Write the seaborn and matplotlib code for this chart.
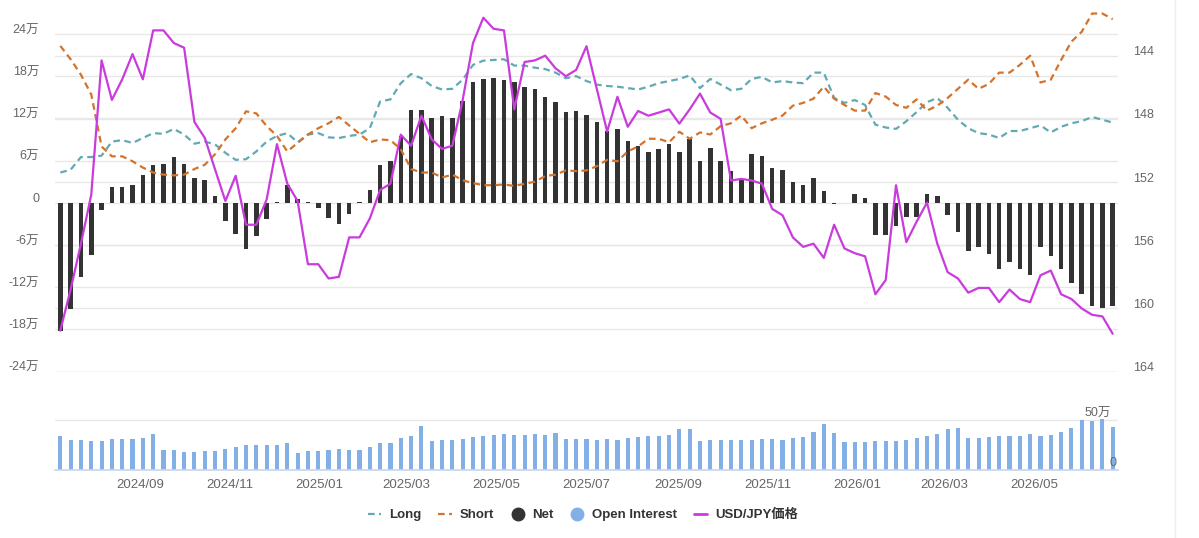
import numpy as np
import pandas as pd
import matplotlib
matplotlib.use("Agg")
import matplotlib.pyplot as plt
import matplotlib.dates as mdates
from matplotlib.lines import Line2D
from matplotlib.transforms import ScaledTranslation
import seaborn as sns

# ---------------- data ----------------
start_date = "2024-07-09"
n_weeks = 103

net = [-18.2, -15.1, -10.6, -7.4, -1.0, 2.2, 2.2, 2.5, 3.9, 5.4,
       5.5, 6.5, 5.5, 3.5, 3.2, 1.0, -2.6, -4.4, -6.5, -4.7,
       -2.3, 0.1, 2.5, 0.5, 0.1, -0.8, -2.1, -3.0, -1.6, 0.1,
       1.8, 5.4, 5.9, 9.5, 13.2, 13.2, 12.1, 12.4, 12.1, 14.5,
       17.1, 17.6, 17.8, 17.5, 17.1, 16.5, 16.2, 15.0, 14.3, 12.9,
       13.1, 12.5, 11.5, 10.2, 10.5, 8.8, 8.0, 7.2, 7.6, 8.4,
       7.2, 9.0, 5.9, 7.8, 5.9, 4.5, 3.3, 7.0, 6.6, 4.9,
       4.6, 2.9, 2.5, 3.5, 1.7, -0.15, 0.0, 1.2, 0.7, -4.6,
       -4.6, -3.3, -2.0, -2.0, 1.2, 0.9, -1.7, -4.1, -6.9, -6.3,
       -7.3, -9.4, -8.4, -9.4, -10.3, -6.3, -7.6, -9.4, -11.4, -13.0,
       -14.6, -15.0, -14.6]

long_pos = [4.3, 4.7, 6.5, 6.5, 6.7, 8.7, 8.9, 8.5, 9.2, 9.9,
            9.8, 10.5, 9.7, 8.4, 8.7, 8.3, 7.1, 6.1, 6.2, 7.3,
            8.7, 9.5, 9.9, 8.6, 9.7, 9.9, 9.3, 9.2, 9.5, 9.7,
            10.6, 14.4, 14.7, 17.0, 18.3, 17.7, 16.6, 16.1, 16.2, 17.5,
            19.6, 20.2, 20.3, 20.4, 19.5, 19.5, 19.2, 19.0, 18.5, 17.7,
            18.0, 17.3, 16.8, 16.6, 16.5, 16.3, 16.1, 16.5, 17.0, 17.3,
            17.6, 18.1, 16.3, 17.6, 16.8, 16.0, 16.2, 17.6, 17.9, 17.1,
            17.3, 17.1, 17.0, 18.5, 18.5, 14.9, 14.2, 14.6, 13.9, 11.1,
            10.7, 10.5, 11.6, 12.9, 14.3, 14.9, 13.5, 11.8, 10.6, 9.9,
            9.7, 9.2, 10.2, 10.2, 10.6, 11.0, 10.0, 10.8, 11.3, 11.6,
            12.2, 11.8, 11.4]

short_pos = [22.3, 20.4, 18.2, 15.4, 8.0, 6.6, 6.6, 5.9, 5.0, 4.3,
             4.0, 3.9, 4.0, 4.8, 5.4, 6.9, 9.0, 10.6, 13.0, 12.7,
             10.9, 9.5, 7.3, 8.5, 9.7, 10.6, 11.3, 12.2, 11.0, 9.8,
             8.6, 9.0, 8.9, 7.6, 4.8, 4.3, 4.3, 3.6, 4.0, 3.2,
             2.8, 2.5, 2.5, 2.6, 2.4, 2.7, 3.0, 3.8, 4.0, 4.6,
             4.5, 4.6, 5.2, 6.1, 5.9, 7.3, 8.0, 9.1, 9.1, 8.6,
             10.1, 9.1, 10.0, 9.7, 10.9, 11.3, 12.4, 10.6, 11.3, 11.8,
             12.4, 13.8, 14.2, 14.8, 16.5, 14.8, 13.9, 13.1, 13.1, 15.6,
             15.1, 13.9, 13.5, 14.7, 13.1, 13.8, 14.9, 16.2, 17.5, 16.2,
             16.9, 18.5, 18.5, 19.6, 20.9, 17.1, 17.5, 20.3, 22.9, 24.3,
             26.9, 26.9, 26.1]

usdjpy = [161.4, 158.8, 155.9, 152.8, 144.3, 146.8, 145.5, 143.9, 145.5, 142.4,
          142.4, 143.2, 143.5, 148.2, 149.2, 151.2, 153.2, 151.6, 154.7, 154.7,
          153.1, 149.6, 152.1, 153.2, 157.2, 157.2, 158.1, 158.0, 155.5, 155.5,
          154.3, 152.5, 152.1, 149.0, 149.7, 147.8, 149.3, 149.9, 149.7, 146.8,
          143.2, 141.6, 142.3, 142.4, 147.4, 144.4, 144.3, 144.0, 144.8, 145.3,
          144.9, 143.4, 146.1, 148.8, 146.6, 148.5, 147.5, 147.8, 147.6, 147.4,
          148.3, 147.4, 146.4, 147.6, 148.0, 151.9, 151.8, 151.9, 152.1, 153.7,
          154.1, 155.5, 156.1, 155.9, 156.8, 154.7, 156.2, 156.5, 156.7, 159.1,
          158.2, 152.2, 155.8, 154.5, 153.3, 155.9, 157.7, 158.1, 159.0, 158.7,
          158.7, 159.6, 158.8, 159.4, 159.6, 157.9, 157.6, 159.1, 159.4, 160.0,
          160.4, 160.5, 161.6]

open_interest = [34.3, 29.7, 29.7, 28.7, 28.7, 31.1, 31.1, 31.1, 32.2, 36.4,
                 19.6, 20.3, 18.2, 18.2, 19.2, 19.2, 21.3, 22.7, 24.8, 24.8,
                 24.8, 24.8, 26.9, 17.1, 19.2, 19.2, 20.3, 21.3, 20.3, 20.3,
                 22.7, 26.9, 26.9, 32.2, 34.3, 43.7, 28.7, 29.7, 29.7, 31.1,
                 33.2, 34.3, 35.3, 36.4, 35.3, 35.3, 36.4, 35.3, 37.4, 31.1,
                 31.1, 31.1, 29.7, 31.1, 29.7, 32.2, 33.2, 34.3, 34.3, 35.3,
                 40.6, 40.6, 28.7, 29.7, 29.7, 29.7, 29.7, 29.7, 31.1, 31.1,
                 29.7, 32.2, 33.2, 38.5, 45.8, 37.4, 27.6, 27.6, 27.6, 28.7,
                 28.7, 28.7, 29.7, 32.2, 34.3, 36.4, 40.6, 41.6, 32.2, 32.2,
                 33.2, 34.3, 34.3, 34.3, 36.4, 34.3, 35.3, 38.5, 41.6, 50.0,
                 49.0, 51.0, 42.7]

left_ticks = [24, 18, 12, 6, 0, -6, -12, -18, -24]
left_labels = ["24万", "18万", "12万", "6万", "0", "-6万", "-12万", "-18万", "-24万"]
right_ticks = [144, 148, 152, 156, 160, 164]
right_labels = ["144", "148", "152", "156", "160", "164"]
x_tick_labels = ["2024/09", "2024/11", "2025/01", "2025/03", "2025/05", "2025/07",
                 "2025/09", "2025/11", "2026/01", "2026/03", "2026/05"]
oi_labels = ["50万", "0"]
legend_labels = ["Long", "Short", "Net", "Open Interest", "USD/JPY価格"]

# ---------------- style ----------------
sns.set_theme(style="white")
plt.rcParams["font.family"] = ["Liberation Sans", "Noto Sans CJK JP"]

C_LONG = "#62a9b4"
C_SHORT = "#d4732c"
C_NET = "#333333"
C_OI = "#82b0e6"
C_PX = "#c93bdc"
C_GRID = "#e8e8e8"
C_TXT = "#666666"

W, H = 1199, 538
fig = plt.figure(figsize=(W / 100, H / 100), dpi=100)
fig.patch.set_facecolor("white")

dates = pd.date_range(start_date, periods=n_weeks, freq="7D")
xnum = mdates.date2num(dates)
xlim = (xnum[0] - 3.6, xnum[-1] + 3.6)

ax = fig.add_axes([55 / W, 1 - 372 / H, (1118 - 55) / W, 362 / H])
axg = ax.twinx()
ax2 = ax.twinx()
axg.set_zorder(1)
ax.set_zorder(2)
ax2.set_zorder(3)
for a in (ax, axg, ax2):
    a.patch.set_visible(False)
    for s in a.spines.values():
        s.set_visible(False)

df = pd.DataFrame({"x": xnum, "net": net, "long": long_pos, "short": short_pos,
                   "px": usdjpy, "oi": open_interest})

sns.barplot(data=df, x="x", y="net", native_scale=True, orient="x", color=C_NET,
            saturation=1, width=0.44, errorbar=None, linewidth=0, ax=ax)
sns.lineplot(data=df, x="x", y="long", ax=ax, color=C_LONG, lw=1.6,
             linestyle=(0, (3, 2)), errorbar=None)
sns.lineplot(data=df, x="x", y="short", ax=ax, color=C_SHORT, lw=1.6,
             linestyle=(0, (3, 2)), errorbar=None)
sns.lineplot(data=df, x="x", y="px", ax=ax2, color=C_PX, lw=1.6, errorbar=None)

ax.set_xlim(*xlim)
ax.set_ylim(-24.05, 27.4)
ax.set_yticks(left_ticks)
ax.set_yticklabels(left_labels)
ax.set_xticks([])
ax.set_xlabel("")
ax.set_ylabel("")
ax.grid(axis="y", color=C_GRID, lw=1)
ax.set_axisbelow(True)
ax.tick_params(axis="y", length=0, pad=11.5, labelsize=9, labelcolor=C_TXT)

for a in (axg, ax2):
    a.set_ylim(164.02, 141.11)
    a.set_yticks(right_ticks)
    a.set_xlim(*xlim)
    a.set_ylabel("")
axg.grid(axis="y", color=C_GRID, lw=1)
axg.tick_params(axis="y", length=0, labelright=False, labelleft=False)
ax2.grid(False)
ax2.set_yticklabels(right_labels)
ax2.tick_params(axis="y", length=0, pad=11, labelsize=9, labelcolor=C_TXT)

off = ScaledTranslation(0, 5 / 100, fig.dpi_scale_trans)
for t in ax.get_yticklabels() + ax2.get_yticklabels():
    t.set_transform(t.get_transform() + off)

# ---------------- open interest panel ----------------
axo = fig.add_axes([55 / W, 1 - 470 / H, (1118 - 55) / W, 54 / H])
axo.patch.set_visible(False)
sns.barplot(data=df, x="x", y="oi", native_scale=True, orient="x", color=C_OI,
            saturation=1, width=0.4, errorbar=None, linewidth=0, ax=axo)
axo.set_xlim(*xlim)
axo.set_ylim(0, 54)
axo.set_yticks([0, 50])
axo.grid(axis="y", color=C_GRID, lw=1)
axo.set_axisbelow(True)
axo.tick_params(axis="y", length=0, labelleft=False, labelright=False)
for k, s in axo.spines.items():
    s.set_visible(k == "bottom")
axo.spines["bottom"].set_color("#ccd6eb")
axo.set_xlabel("")
axo.set_ylabel("")
tick_pos = mdates.date2num([pd.Timestamp(l.replace("/", "-") + "-01") for l in x_tick_labels])
axo.set_xticks(tick_pos)
axo.set_xticklabels(x_tick_labels)
axo.tick_params(axis="x", length=5, width=1, color="#ccd6eb", pad=1.5,
                labelsize=9.5, labelcolor=C_TXT)
tr = axo.get_yaxis_transform()
axo.text(0.993, 50.5, oi_labels[0], transform=tr, ha="right", va="bottom",
         fontsize=9, color=C_TXT)
axo.text(0.999, 1.5, oi_labels[1], transform=tr, ha="right", va="bottom",
         fontsize=9, color=C_TXT)

# ---------------- legend ----------------
handles = [
    Line2D([], [], color=C_LONG, lw=1.6, ls=(0, (3, 2))),
    Line2D([], [], color=C_SHORT, lw=1.6, ls=(0, (3, 2))),
    Line2D([], [], color=C_NET, ls="", marker="o", markersize=9),
    Line2D([], [], color=C_OI, ls="", marker="o", markersize=9),
    Line2D([], [], color=C_PX, lw=2),
]
fig.legend(handles, legend_labels, loc="center", bbox_to_anchor=(583 / W, 1 - 515 / H),
           ncol=5, frameon=False, prop={"weight": "bold", "size": 9.5},
           labelcolor="#333333", handlelength=1.0, handletextpad=0.6, columnspacing=1.3)

fig.add_artist(Line2D([1175 / W, 1175 / W], [0, 1], transform=fig.transFigure,
                      color="#eeeeee", lw=1))

fig.savefig("out.png", dpi=100, facecolor="white")
